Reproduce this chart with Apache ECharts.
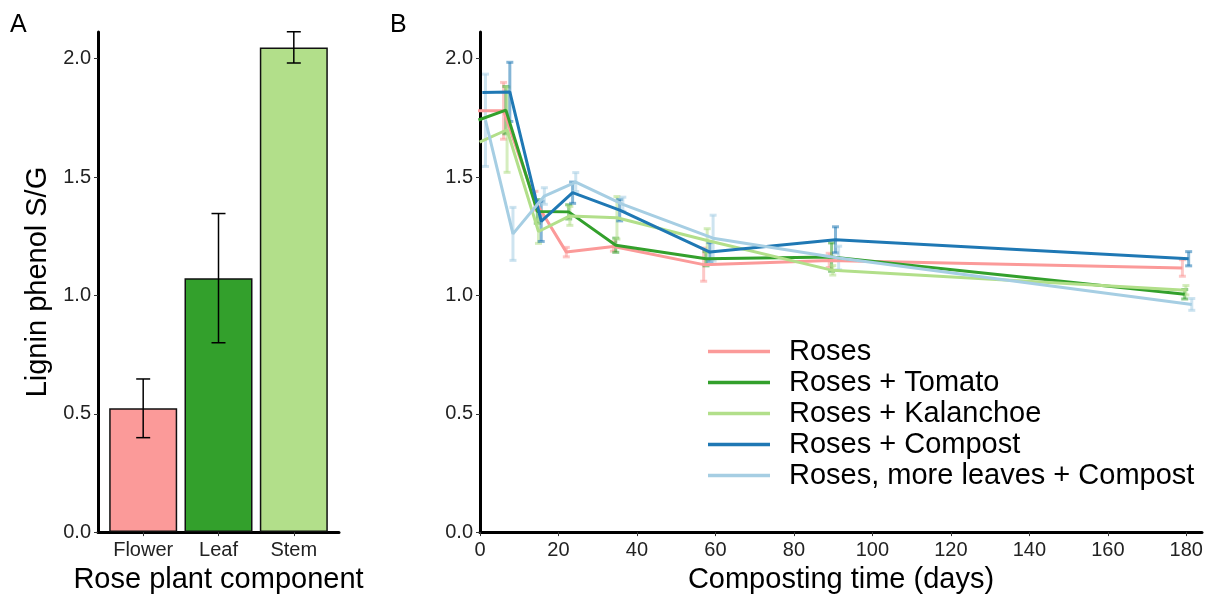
<!DOCTYPE html>
<html lang="en">
<head>
    <meta charset="UTF-8">
    <title>Lignin phenol S/G</title>
    <script src="https://cdn.jsdelivr.net/npm/echarts@6/dist/echarts.min.js"></script>
    <style>
        html, body { margin: 0; padding: 0; background: #fff; }
        #chart { width: 1215px; height: 599px; }
    </style>
</head>
<body>
    <div id="chart"></div>
    <script>
        // panel A: rose plant components
        var parts = ['Flower', 'Leaf', 'Stem'];
        var partMeans = [0.523, 1.073, 2.048];
        var partErr = [0.124, 0.273, 0.066];

        // panel B: composting time series
        var days = [0, 7, 15, 23, 35, 58, 90, 180];
        var treatments = ['Roses', 'Roses + Tomato', 'Roses + Kalanchoe', 'Roses + Compost', 'Roses, more leaves + Compost'];
        var roses = [1.78, 1.78, 1.40, 1.183, 1.207, 1.13, 1.148, 1.116];
        var rosesErr = [0, 0.12, 0.04, 0.02, 0.02, 0.07, 0.03, 0.035];
        var tomato = [1.741, 1.783, 1.355, 1.353, 1.212, 1.155, 1.162, 1.005];
        var tomatoErr = [0, 0.10, 0.05, 0.03, 0.03, 0.03, 0.06, 0.02];
        var kalanchoe = [1.648, 1.70, 1.27, 1.336, 1.328, 1.232, 1.106, 1.022];
        var kalanchoeErr = [0, 0.18, 0.05, 0.04, 0.09, 0.05, 0.02, 0.02];
        var compost = [1.857, 1.86, 1.313, 1.434, 1.36, 1.183, 1.235, 1.155];
        var compostErr = [0, 0.125, 0.085, 0.045, 0.045, 0.04, 0.055, 0.03];
        var leaves = [1.74, 1.26, 1.42, 1.479, 1.385, 1.242, 1.158, 0.962];
        var leavesErr = [0.195, 0.112, 0.035, 0.04, 0.03, 0.097, 0.05, 0.025];

        var yTicks = [0, 0.5, 1.0, 1.5, 2.0];
        var xTicksB = [0, 20, 40, 60, 80, 100, 120, 140, 160, 180];

        var values = [roses, tomato, kalanchoe, compost, leaves];
        var errs = [rosesErr, tomatoErr, kalanchoeErr, compostErr, leavesErr];
        var colors = ['#FB9A99', '#33A02C', '#B2DF8A', '#1F78B4', '#A6CEE3'];
        var partColors = ['#FB9A99', '#33A02C', '#B2DF8A'];
        var dodge = [-1.0, -0.4, -0.1, 0.6, 1.4];

        var font = "'Liberation Sans', Arial, sans-serif";
        var myChart = echarts.init(document.getElementById('chart'), null, { renderer: 'canvas' });

        function rgba(hex, a) {
            var n = parseInt(hex.slice(1), 16);
            return 'rgba(' + (n >> 16) + ',' + ((n >> 8) & 255) + ',' + (n & 255) + ',' + a + ')';
        }

        // vertical error bar with caps
        function errRender(stroke, lw, half) {
            return function (params, api) {
                var x = api.value(0);
                var top = api.coord([x, api.value(2)]);
                var bot = api.coord([x, api.value(1)]);
                var st = { stroke: stroke, lineWidth: lw };
                return {
                    type: 'group',
                    children: [
                        { type: 'line', shape: { x1: top[0], y1: top[1], x2: bot[0], y2: bot[1] }, style: st },
                        { type: 'line', shape: { x1: top[0] - half, y1: top[1], x2: top[0] + half, y2: top[1] }, style: st },
                        { type: 'line', shape: { x1: bot[0] - half, y1: bot[1], x2: bot[0] + half, y2: bot[1] }, style: st }
                    ]
                };
            };
        }

        var axisLine = { show: true, lineStyle: { color: '#000', width: 3 } };
        var axisTick = { show: true, length: 4, lineStyle: { color: '#333', width: 1 } };
        var labelStyle = { color: '#222', fontSize: 20, fontFamily: font };
        var nameStyle = { color: '#000', fontSize: 29, fontFamily: font };

        function yAxis(gridIndex, name) {
            return {
                type: 'value', gridIndex: gridIndex, min: 0, max: 2.113,
                name: name, nameLocation: 'middle', nameGap: 46, nameTextStyle: nameStyle,
                axisLine: axisLine,
                axisTick: Object.assign({ customValues: yTicks }, axisTick),
                axisLabel: Object.assign({ customValues: yTicks, margin: 7, formatter: function (v) { return v.toFixed(1); } }, labelStyle),
                splitLine: { show: false }
            };
        }

        var series = [];
        series.push({
            type: 'bar', xAxisIndex: 0, yAxisIndex: 0, barWidth: 68,
            data: partMeans.map(function (v, i) {
                return { value: [i + 1, v], itemStyle: { color: partColors[i] } };
            }),
            itemStyle: { borderColor: '#111', borderWidth: 1.5 },
            silent: true
        });
        series.push({
            type: 'custom', xAxisIndex: 0, yAxisIndex: 0, z: 5,
            renderItem: errRender('#000', 1.5, 7),
            data: partMeans.map(function (v, i) { return [i + 1, v - partErr[i], v + partErr[i]]; })
        });

        treatments.forEach(function (name, k) {
            series.push({
                name: 'err ' + name, type: 'custom', xAxisIndex: 1, yAxisIndex: 1, z: 1, clip: true,
                renderItem: errRender(rgba(colors[k], 0.55), 3, 3.5),
                data: days.map(function (d, i) {
                    return [d + dodge[k], values[k][i] - errs[k][i], values[k][i] + errs[k][i]];
                }).filter(function (p) { return p[2] > p[1]; })
            });
        });
        treatments.forEach(function (name, k) {
            series.push({
                name: name, type: 'line', xAxisIndex: 1, yAxisIndex: 1, z: 3,
                showSymbol: false, symbol: 'none', clip: true,
                color: colors[k],
                lineStyle: { color: colors[k], width: 3 },
                data: days.map(function (d, i) { return [d + dodge[k], values[k][i]]; })
            });
        });

        var option = {
            backgroundColor: '#fff',
            animation: false,
            title: [
                { text: 'A', left: 5, top: 8, textStyle: { fontSize: 25, fontWeight: 'normal', fontFamily: font, color: '#000' } },
                { text: 'B', left: 385, top: 8, textStyle: { fontSize: 25, fontWeight: 'normal', fontFamily: font, color: '#000' } }
            ],
            grid: [
                { left: 98, top: 32, width: 241, height: 504 },
                { left: 480, top: 32, width: 722, height: 504 }
            ],
            legend: {
                data: treatments, orient: 'vertical', left: 708, top: 336, padding: 0,
                icon: 'rect', itemWidth: 62, itemHeight: 3.5, itemGap: 0,
                textStyle: { fontSize: 29, fontFamily: font, color: '#000', lineHeight: 31, padding: [0, 0, 0, 14] },
                selectedMode: false
            },
            xAxis: [
                {
                    type: 'value', gridIndex: 0, min: 0.4, max: 3.6,
                    name: 'Rose plant component', nameLocation: 'middle', nameGap: 30, nameTextStyle: nameStyle,
                    axisLine: axisLine,
                    axisTick: Object.assign({ customValues: [1, 2, 3] }, axisTick),
                    axisLabel: Object.assign({ customValues: [1, 2, 3], margin: 8, formatter: function (v) { return parts[Math.round(v) - 1]; } }, labelStyle),
                    splitLine: { show: false }
                },
                {
                    type: 'value', gridIndex: 1, min: 0, max: 184,
                    name: 'Composting time (days)', nameLocation: 'middle', nameGap: 30, nameTextStyle: nameStyle,
                    axisLine: axisLine,
                    axisTick: Object.assign({ customValues: xTicksB }, axisTick),
                    axisLabel: Object.assign({ customValues: xTicksB, margin: 8 }, labelStyle),
                    splitLine: { show: false }
                }
            ],
            yAxis: [yAxis(0, 'Lignin phenol S/G'), yAxis(1, '')],
            series: series
        };
        myChart.setOption(option);
    </script>
</body>
</html>
